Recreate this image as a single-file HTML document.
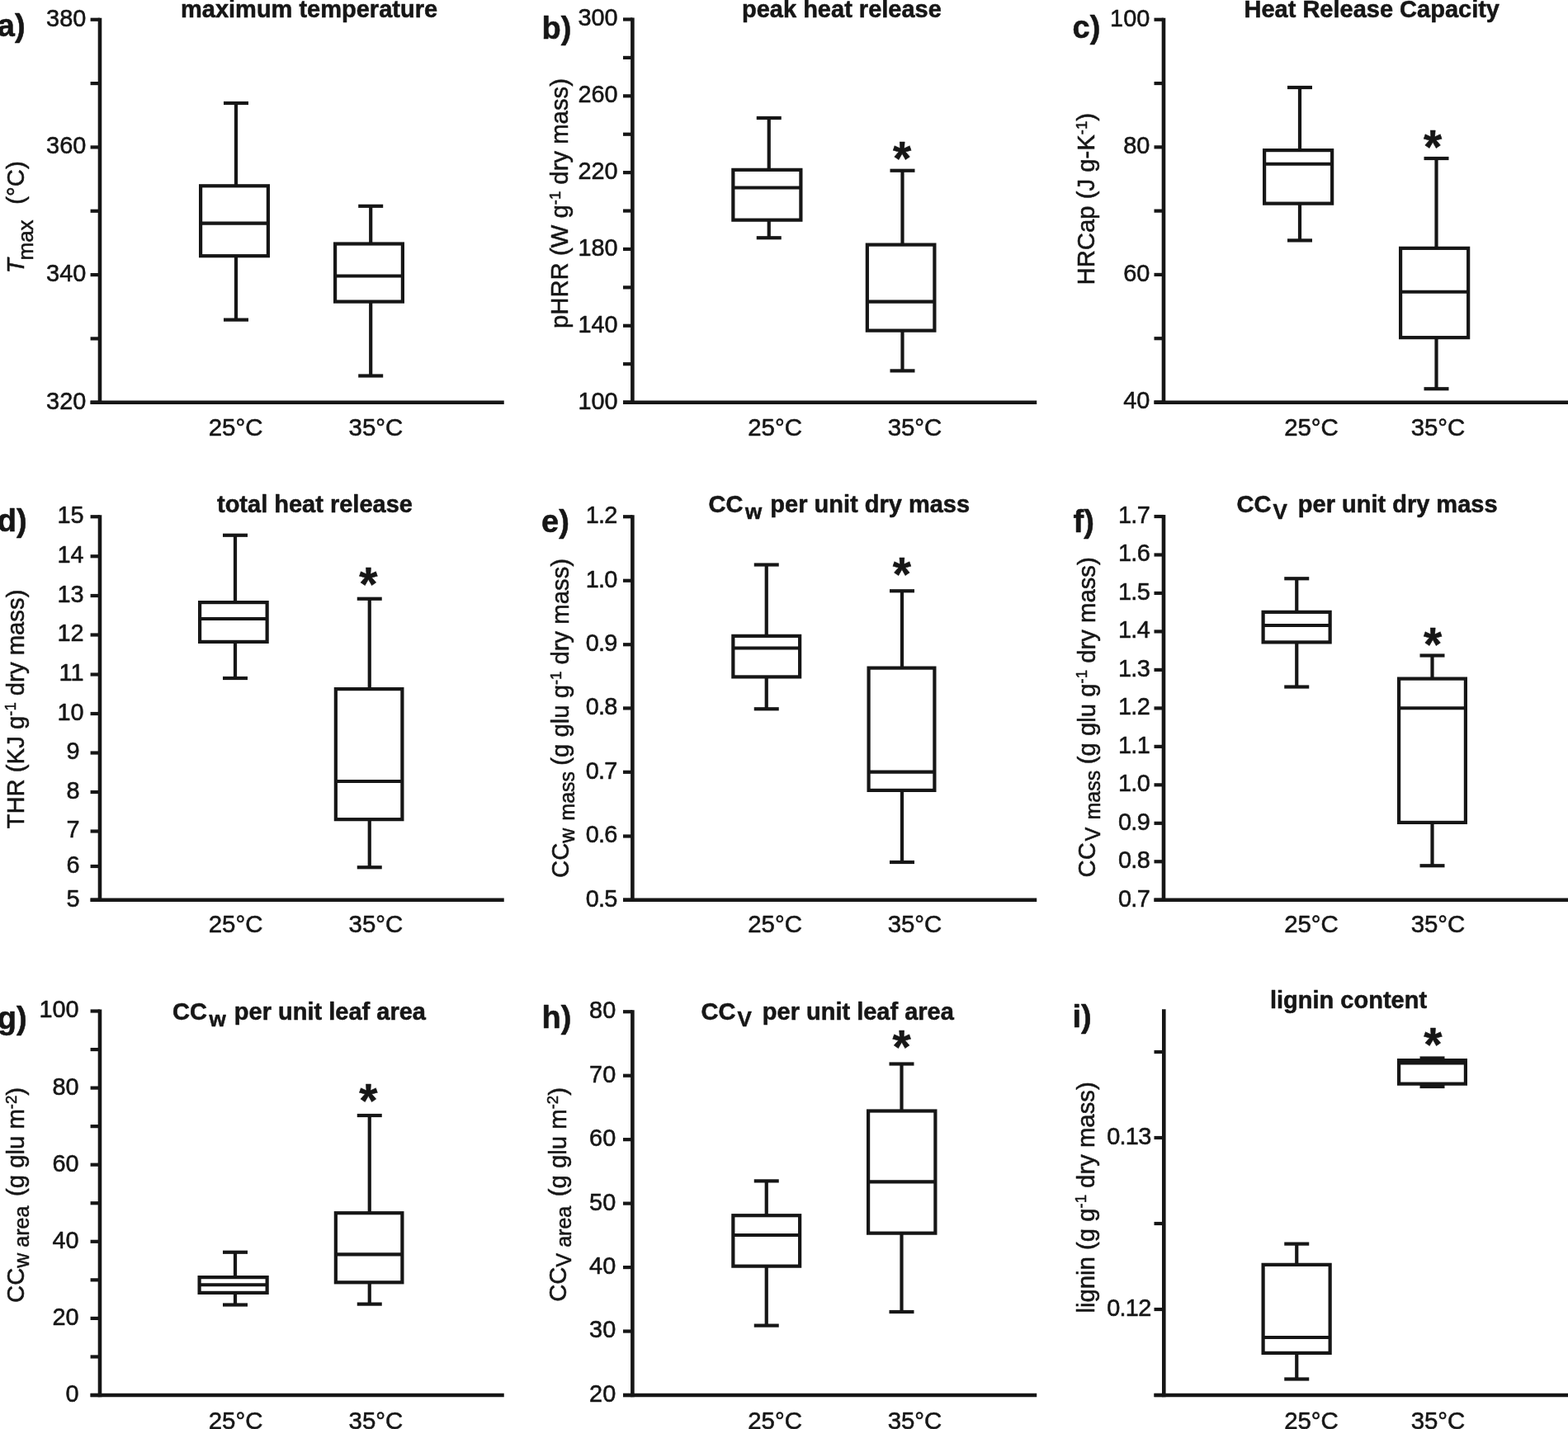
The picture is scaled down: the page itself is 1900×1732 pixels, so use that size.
<!DOCTYPE html>
<html lang="en">
<head>
<meta charset="utf-8">
<title>Box plots: thermal decomposition and construction cost at 25°C and 35°C</title>
<style>
html,body{margin:0;padding:0;background:#fff;}
body{width:1900px;height:1732px;overflow:hidden;}
svg{display:block;}
svg text{font-family:"Liberation Sans",sans-serif;fill:#161616;stroke:#161616;stroke-width:0.55px;stroke-linejoin:round;}
svg line,svg rect{stroke:#161616;}
</style>
</head>
<body>
<svg width="1900" height="1732" viewBox="0 0 1900 1732" shape-rendering="auto">
<rect x="0" y="0" width="1900" height="1732" fill="#fff" stroke="none" style="stroke:none"/>
<g id="panel-a">
<line x1="121" y1="21.65" x2="121" y2="490.05" stroke-width="4.6"/>
<line x1="109.6" y1="487.75" x2="610.75" y2="487.75" stroke-width="4.6"/>
<line x1="109.6" y1="23.75" x2="121" y2="23.75" stroke-width="4.2"/>
<line x1="109.6" y1="101.08" x2="121" y2="101.08" stroke-width="4.2"/>
<line x1="109.6" y1="178.42" x2="121" y2="178.42" stroke-width="4.2"/>
<line x1="109.6" y1="255.75" x2="121" y2="255.75" stroke-width="4.2"/>
<line x1="109.6" y1="333.08" x2="121" y2="333.08" stroke-width="4.2"/>
<line x1="109.6" y1="410.42" x2="121" y2="410.42" stroke-width="4.2"/>
<line x1="109.6" y1="487.75" x2="121" y2="487.75" stroke-width="4.2"/>
<text transform="translate(104.3 31.65) scale(1 1.05)" font-size="28.9" text-anchor="end">380</text>
<text transform="translate(104.3 186.32) scale(1 1.05)" font-size="28.9" text-anchor="end">360</text>
<text transform="translate(104.3 340.98) scale(1 1.05)" font-size="28.9" text-anchor="end">340</text>
<text transform="translate(104.3 495.65) scale(1 1.05)" font-size="28.9" text-anchor="end">320</text>
<rect x="243.1" y="225.3" width="81.8" height="84.9" fill="#fff" stroke-width="4.2"/>
<line x1="243.1" y1="270.7" x2="324.9" y2="270.7" stroke-width="4.2"/>
<line x1="286" y1="125" x2="286" y2="225.3" stroke-width="4.2"/>
<line x1="286" y1="310.2" x2="286" y2="387.6" stroke-width="4.2"/>
<line x1="271" y1="125" x2="301" y2="125" stroke-width="4.2"/>
<line x1="271" y1="387.6" x2="301" y2="387.6" stroke-width="4.2"/>
<rect x="406.1" y="295.5" width="81.8" height="70.1" fill="#fff" stroke-width="4.2"/>
<line x1="406.1" y1="334.5" x2="487.9" y2="334.5" stroke-width="4.2"/>
<line x1="449.2" y1="249.8" x2="449.2" y2="295.5" stroke-width="4.2"/>
<line x1="449.2" y1="365.6" x2="449.2" y2="455.5" stroke-width="4.2"/>
<line x1="434.2" y1="249.8" x2="464.2" y2="249.8" stroke-width="4.2"/>
<line x1="434.2" y1="455.5" x2="464.2" y2="455.5" stroke-width="4.2"/>
<text transform="translate(285.6 527.5) scale(1 1.03)" font-size="29.4" text-anchor="middle">25°C</text>
<text transform="translate(455.4 527.5) scale(1 1.03)" font-size="29.4" text-anchor="middle">35°C</text>
<text x="219" y="21.2" font-size="29" font-weight="bold" xml:space="preserve"><tspan>maximum temperature</tspan></text>
<text x="-3.2" y="44.2" font-size="38" font-weight="bold">a)</text>
<text transform="translate(28.8 331.2) rotate(-90)" font-size="29.3" xml:space="preserve"><tspan font-style="italic">T</tspan><tspan dy="11.5" dx="-2.2" font-size="26">max</tspan><tspan dy="-11.5" dx="2.4">  (°C)</tspan></text>
</g>
<g id="panel-b">
<line x1="766.4" y1="21.4" x2="766.4" y2="490.05" stroke-width="4.6"/>
<line x1="755" y1="487.75" x2="1256.25" y2="487.75" stroke-width="4.6"/>
<line x1="755" y1="23.5" x2="766.4" y2="23.5" stroke-width="4.2"/>
<line x1="755" y1="69.91" x2="766.4" y2="69.91" stroke-width="4.2"/>
<line x1="755" y1="116.32" x2="766.4" y2="116.32" stroke-width="4.2"/>
<line x1="755" y1="162.73" x2="766.4" y2="162.73" stroke-width="4.2"/>
<line x1="755" y1="209.14" x2="766.4" y2="209.14" stroke-width="4.2"/>
<line x1="755" y1="255.55" x2="766.4" y2="255.55" stroke-width="4.2"/>
<line x1="755" y1="301.96" x2="766.4" y2="301.96" stroke-width="4.2"/>
<line x1="755" y1="348.37" x2="766.4" y2="348.37" stroke-width="4.2"/>
<line x1="755" y1="394.78" x2="766.4" y2="394.78" stroke-width="4.2"/>
<line x1="755" y1="441.19" x2="766.4" y2="441.19" stroke-width="4.2"/>
<line x1="755" y1="487.6" x2="766.4" y2="487.6" stroke-width="4.2"/>
<text transform="translate(748.6 31.4) scale(1 1.05)" font-size="28.9" text-anchor="end">300</text>
<text transform="translate(748.6 124.22) scale(1 1.05)" font-size="28.9" text-anchor="end">260</text>
<text transform="translate(748.6 217.04) scale(1 1.05)" font-size="28.9" text-anchor="end">220</text>
<text transform="translate(748.6 309.86) scale(1 1.05)" font-size="28.9" text-anchor="end">180</text>
<text transform="translate(748.6 402.68) scale(1 1.05)" font-size="28.9" text-anchor="end">140</text>
<text transform="translate(748.6 495.5) scale(1 1.05)" font-size="28.9" text-anchor="end">100</text>
<rect x="888.35" y="205.85" width="82.05" height="60.8" fill="#fff" stroke-width="4.2"/>
<line x1="888.35" y1="227.5" x2="970.4" y2="227.5" stroke-width="4.2"/>
<line x1="931.75" y1="143" x2="931.75" y2="205.85" stroke-width="4.2"/>
<line x1="931.75" y1="266.65" x2="931.75" y2="288.25" stroke-width="4.2"/>
<line x1="916.75" y1="143" x2="946.75" y2="143" stroke-width="4.2"/>
<line x1="916.75" y1="288.25" x2="946.75" y2="288.25" stroke-width="4.2"/>
<rect x="1050.85" y="296.6" width="81.55" height="104.05" fill="#fff" stroke-width="4.2"/>
<line x1="1050.85" y1="365.6" x2="1132.4" y2="365.6" stroke-width="4.2"/>
<line x1="1093.5" y1="206.75" x2="1093.5" y2="296.6" stroke-width="4.2"/>
<line x1="1093.5" y1="400.65" x2="1093.5" y2="449.4" stroke-width="4.2"/>
<line x1="1078.5" y1="206.75" x2="1108.5" y2="206.75" stroke-width="4.2"/>
<line x1="1078.5" y1="449.4" x2="1108.5" y2="449.4" stroke-width="4.2"/>
<text x="1093" y="211.8" font-size="57" text-anchor="middle" font-weight="bold">*</text>
<text transform="translate(939.1 527.5) scale(1 1.03)" font-size="29.4" text-anchor="middle">25°C</text>
<text transform="translate(1108.5 527.5) scale(1 1.03)" font-size="29.4" text-anchor="middle">35°C</text>
<text x="899" y="21.2" font-size="29" font-weight="bold" xml:space="preserve"><tspan>peak heat release</tspan></text>
<text x="656.5" y="47" font-size="38" font-weight="bold">b)</text>
<text transform="translate(688 398) rotate(-90)" font-size="29.3" xml:space="preserve"><tspan>pHRR (W g</tspan><tspan dy="-9.2" font-size="18.5">-1</tspan><tspan dy="9.2"> dry mass)</tspan></text>
</g>
<g id="panel-c">
<line x1="1410" y1="21.65" x2="1410" y2="490.05" stroke-width="4.6"/>
<line x1="1398.5" y1="487.75" x2="1902" y2="487.75" stroke-width="4.6"/>
<line x1="1398.5" y1="23.75" x2="1410" y2="23.75" stroke-width="4.2"/>
<line x1="1398.5" y1="101.04" x2="1410" y2="101.04" stroke-width="4.2"/>
<line x1="1398.5" y1="178.33" x2="1410" y2="178.33" stroke-width="4.2"/>
<line x1="1398.5" y1="255.62" x2="1410" y2="255.62" stroke-width="4.2"/>
<line x1="1398.5" y1="332.92" x2="1410" y2="332.92" stroke-width="4.2"/>
<line x1="1398.5" y1="410.21" x2="1410" y2="410.21" stroke-width="4.2"/>
<line x1="1398.5" y1="487.5" x2="1410" y2="487.5" stroke-width="4.2"/>
<text transform="translate(1393.3 31.65) scale(1 1.05)" font-size="28.9" text-anchor="end">100</text>
<text transform="translate(1393.3 186.23) scale(1 1.05)" font-size="28.9" text-anchor="end">80</text>
<text transform="translate(1393.3 340.82) scale(1 1.05)" font-size="28.9" text-anchor="end">60</text>
<text transform="translate(1393.3 495.4) scale(1 1.05)" font-size="28.9" text-anchor="end">40</text>
<rect x="1532.1" y="182.1" width="82.05" height="64.55" fill="#fff" stroke-width="4.2"/>
<line x1="1532.1" y1="198.75" x2="1614.15" y2="198.75" stroke-width="4.2"/>
<line x1="1575" y1="106" x2="1575" y2="182.1" stroke-width="4.2"/>
<line x1="1575" y1="246.65" x2="1575" y2="291.4" stroke-width="4.2"/>
<line x1="1560" y1="106" x2="1590" y2="106" stroke-width="4.2"/>
<line x1="1560" y1="291.4" x2="1590" y2="291.4" stroke-width="4.2"/>
<rect x="1697.1" y="300.85" width="82.05" height="108.3" fill="#fff" stroke-width="4.2"/>
<line x1="1697.1" y1="353.75" x2="1779.15" y2="353.75" stroke-width="4.2"/>
<line x1="1740.5" y1="192" x2="1740.5" y2="300.85" stroke-width="4.2"/>
<line x1="1740.5" y1="409.15" x2="1740.5" y2="471.25" stroke-width="4.2"/>
<line x1="1725.5" y1="192" x2="1755.5" y2="192" stroke-width="4.2"/>
<line x1="1725.5" y1="471.25" x2="1755.5" y2="471.25" stroke-width="4.2"/>
<text x="1736" y="197.55" font-size="57" text-anchor="middle" font-weight="bold">*</text>
<text transform="translate(1589 527.5) scale(1 1.03)" font-size="29.4" text-anchor="middle">25°C</text>
<text transform="translate(1742.5 527.5) scale(1 1.03)" font-size="29.4" text-anchor="middle">35°C</text>
<text x="1507.5" y="21.2" font-size="29" font-weight="bold" xml:space="preserve"><tspan>Heat Release Capacity</tspan></text>
<text x="1299.5" y="46.3" font-size="38" font-weight="bold">c)</text>
<text transform="translate(1326 345.5) rotate(-90)" font-size="29.3" xml:space="preserve"><tspan>HRCap (J g-K</tspan><tspan dy="-9.2" font-size="18.5">-1</tspan><tspan dy="9.2">)</tspan></text>
</g>
<g id="panel-d">
<line x1="121" y1="624.15" x2="121" y2="1093.05" stroke-width="4.6"/>
<line x1="109.6" y1="1090.75" x2="610.75" y2="1090.75" stroke-width="4.6"/>
<line x1="109.6" y1="626.25" x2="121" y2="626.25" stroke-width="4.2"/>
<line x1="109.6" y1="674.25" x2="121" y2="674.25" stroke-width="4.2"/>
<line x1="109.6" y1="722" x2="121" y2="722" stroke-width="4.2"/>
<line x1="109.6" y1="769.5" x2="121" y2="769.5" stroke-width="4.2"/>
<line x1="109.6" y1="817.5" x2="121" y2="817.5" stroke-width="4.2"/>
<line x1="109.6" y1="865" x2="121" y2="865" stroke-width="4.2"/>
<line x1="109.6" y1="912.5" x2="121" y2="912.5" stroke-width="4.2"/>
<line x1="109.6" y1="960" x2="121" y2="960" stroke-width="4.2"/>
<line x1="109.6" y1="1007.5" x2="121" y2="1007.5" stroke-width="4.2"/>
<line x1="109.6" y1="1050" x2="121" y2="1050" stroke-width="4.2"/>
<line x1="109.6" y1="1090.75" x2="121" y2="1090.75" stroke-width="4.2"/>
<text transform="translate(101.6 634.15) scale(1 1.05)" font-size="28.9" text-anchor="end">15</text>
<text transform="translate(101.6 682.15) scale(1 1.05)" font-size="28.9" text-anchor="end">14</text>
<text transform="translate(101.6 729.9) scale(1 1.05)" font-size="28.9" text-anchor="end">13</text>
<text transform="translate(101.6 777.4) scale(1 1.05)" font-size="28.9" text-anchor="end">12</text>
<text transform="translate(101.6 825.4) scale(1 1.05)" font-size="28.9" text-anchor="end">11</text>
<text transform="translate(101.6 872.9) scale(1 1.05)" font-size="28.9" text-anchor="end">10</text>
<text transform="translate(96.6 920.4) scale(1 1.05)" font-size="28.9" text-anchor="end">9</text>
<text transform="translate(96.6 967.9) scale(1 1.05)" font-size="28.9" text-anchor="end">8</text>
<text transform="translate(96.6 1015.4) scale(1 1.05)" font-size="28.9" text-anchor="end">7</text>
<text transform="translate(96.6 1057.9) scale(1 1.05)" font-size="28.9" text-anchor="end">6</text>
<text transform="translate(96.6 1098.65) scale(1 1.05)" font-size="28.9" text-anchor="end">5</text>
<rect x="242.1" y="730.1" width="81.55" height="47.8" fill="#fff" stroke-width="4.2"/>
<line x1="242.1" y1="750" x2="323.65" y2="750" stroke-width="4.2"/>
<line x1="285" y1="648.75" x2="285" y2="730.1" stroke-width="4.2"/>
<line x1="285" y1="777.9" x2="285" y2="822" stroke-width="4.2"/>
<line x1="270" y1="648.75" x2="300" y2="648.75" stroke-width="4.2"/>
<line x1="270" y1="822" x2="300" y2="822" stroke-width="4.2"/>
<rect x="406.85" y="835.1" width="80.55" height="158.05" fill="#fff" stroke-width="4.2"/>
<line x1="406.85" y1="947" x2="487.4" y2="947" stroke-width="4.2"/>
<line x1="447.75" y1="725.75" x2="447.75" y2="835.1" stroke-width="4.2"/>
<line x1="447.75" y1="993.15" x2="447.75" y2="1051.25" stroke-width="4.2"/>
<line x1="432.75" y1="725.75" x2="462.75" y2="725.75" stroke-width="4.2"/>
<line x1="432.75" y1="1051.25" x2="462.75" y2="1051.25" stroke-width="4.2"/>
<text x="446.25" y="727.55" font-size="57" text-anchor="middle" font-weight="bold">*</text>
<text transform="translate(285.6 1129.7) scale(1 1.03)" font-size="29.4" text-anchor="middle">25°C</text>
<text transform="translate(455.4 1129.7) scale(1 1.03)" font-size="29.4" text-anchor="middle">35°C</text>
<text x="263" y="621.3" font-size="29" font-weight="bold" xml:space="preserve"><tspan>total heat release</tspan></text>
<text x="-3.3" y="643.8" font-size="38" font-weight="bold">d)</text>
<text transform="translate(28.65 1004.5) rotate(-90)" font-size="29.3" xml:space="preserve"><tspan>THR (KJ g</tspan><tspan dy="-9.2" font-size="18.5">-1</tspan><tspan dy="9.2"> dry mass)</tspan></text>
</g>
<g id="panel-e">
<line x1="766.4" y1="624.15" x2="766.4" y2="1093.05" stroke-width="4.6"/>
<line x1="755" y1="1090.75" x2="1256.25" y2="1090.75" stroke-width="4.6"/>
<line x1="755" y1="626.25" x2="766.4" y2="626.25" stroke-width="4.2"/>
<line x1="755" y1="703.75" x2="766.4" y2="703.75" stroke-width="4.2"/>
<line x1="755" y1="781.25" x2="766.4" y2="781.25" stroke-width="4.2"/>
<line x1="755" y1="858.4" x2="766.4" y2="858.4" stroke-width="4.2"/>
<line x1="755" y1="935.8" x2="766.4" y2="935.8" stroke-width="4.2"/>
<line x1="755" y1="1013.5" x2="766.4" y2="1013.5" stroke-width="4.2"/>
<line x1="755" y1="1090.75" x2="766.4" y2="1090.75" stroke-width="4.2"/>
<text transform="translate(747.7 634.15) scale(1 1.05)" font-size="28.9" text-anchor="end" letter-spacing="-0.7">1.2</text>
<text transform="translate(747.7 711.65) scale(1 1.05)" font-size="28.9" text-anchor="end" letter-spacing="-0.7">1.0</text>
<text transform="translate(747.7 789.15) scale(1 1.05)" font-size="28.9" text-anchor="end" letter-spacing="-0.7">0.9</text>
<text transform="translate(747.7 866.3) scale(1 1.05)" font-size="28.9" text-anchor="end" letter-spacing="-0.7">0.8</text>
<text transform="translate(747.7 943.7) scale(1 1.05)" font-size="28.9" text-anchor="end" letter-spacing="-0.7">0.7</text>
<text transform="translate(747.7 1021.4) scale(1 1.05)" font-size="28.9" text-anchor="end" letter-spacing="-0.7">0.6</text>
<text transform="translate(747.7 1098.65) scale(1 1.05)" font-size="28.9" text-anchor="end" letter-spacing="-0.7">0.5</text>
<rect x="888.35" y="770.85" width="80.8" height="49.55" fill="#fff" stroke-width="4.2"/>
<line x1="888.35" y1="785.5" x2="969.15" y2="785.5" stroke-width="4.2"/>
<line x1="928.75" y1="684.5" x2="928.75" y2="770.85" stroke-width="4.2"/>
<line x1="928.75" y1="820.4" x2="928.75" y2="859.25" stroke-width="4.2"/>
<line x1="913.75" y1="684.5" x2="943.75" y2="684.5" stroke-width="4.2"/>
<line x1="913.75" y1="859.25" x2="943.75" y2="859.25" stroke-width="4.2"/>
<rect x="1052.6" y="809.6" width="79.8" height="148.3" fill="#fff" stroke-width="4.2"/>
<line x1="1052.6" y1="935.6" x2="1132.4" y2="935.6" stroke-width="4.2"/>
<line x1="1093" y1="716.25" x2="1093" y2="809.6" stroke-width="4.2"/>
<line x1="1093" y1="957.9" x2="1093" y2="1045" stroke-width="4.2"/>
<line x1="1078" y1="716.25" x2="1108" y2="716.25" stroke-width="4.2"/>
<line x1="1078" y1="1045" x2="1108" y2="1045" stroke-width="4.2"/>
<text x="1092.75" y="716.05" font-size="57" text-anchor="middle" font-weight="bold">*</text>
<text transform="translate(939.1 1129.7) scale(1 1.03)" font-size="29.4" text-anchor="middle">25°C</text>
<text transform="translate(1108.5 1129.7) scale(1 1.03)" font-size="29.4" text-anchor="middle">35°C</text>
<text x="858.5" y="621.3" font-size="29" font-weight="bold" xml:space="preserve"><tspan>CC</tspan><tspan dy="7.6" dx="2.5" font-size="26">w</tspan><tspan dy="-7.6" dx="2.2"> per unit dry mass</tspan></text>
<text x="656" y="644.5" font-size="38" font-weight="bold">e)</text>
<text transform="translate(689.2 1064) rotate(-90)" font-size="29.3" xml:space="preserve"><tspan>CC</tspan><tspan dy="6.4" font-size="25">w</tspan><tspan dx="2" font-size="25"> mass</tspan><tspan dy="-6.4" dx="-1"> (g glu g</tspan><tspan dy="-9.2" font-size="18.5">-1</tspan><tspan dy="9.2"> dry mass)</tspan></text>
</g>
<g id="panel-f">
<line x1="1410" y1="623.9" x2="1410" y2="1093.05" stroke-width="4.6"/>
<line x1="1398.5" y1="1090.75" x2="1902" y2="1090.75" stroke-width="4.6"/>
<line x1="1398.5" y1="626" x2="1410" y2="626" stroke-width="4.2"/>
<line x1="1398.5" y1="672.48" x2="1410" y2="672.48" stroke-width="4.2"/>
<line x1="1398.5" y1="718.95" x2="1410" y2="718.95" stroke-width="4.2"/>
<line x1="1398.5" y1="765.42" x2="1410" y2="765.42" stroke-width="4.2"/>
<line x1="1398.5" y1="811.9" x2="1410" y2="811.9" stroke-width="4.2"/>
<line x1="1398.5" y1="858.38" x2="1410" y2="858.38" stroke-width="4.2"/>
<line x1="1398.5" y1="904.85" x2="1410" y2="904.85" stroke-width="4.2"/>
<line x1="1398.5" y1="951.33" x2="1410" y2="951.33" stroke-width="4.2"/>
<line x1="1398.5" y1="997.8" x2="1410" y2="997.8" stroke-width="4.2"/>
<line x1="1398.5" y1="1044.28" x2="1410" y2="1044.28" stroke-width="4.2"/>
<line x1="1398.5" y1="1090.75" x2="1410" y2="1090.75" stroke-width="4.2"/>
<text transform="translate(1393 633.9) scale(1 1.05)" font-size="28.9" text-anchor="end" letter-spacing="-0.7">1.7</text>
<text transform="translate(1393 680.38) scale(1 1.05)" font-size="28.9" text-anchor="end" letter-spacing="-0.7">1.6</text>
<text transform="translate(1393 726.85) scale(1 1.05)" font-size="28.9" text-anchor="end" letter-spacing="-0.7">1.5</text>
<text transform="translate(1393 773.32) scale(1 1.05)" font-size="28.9" text-anchor="end" letter-spacing="-0.7">1.4</text>
<text transform="translate(1393 819.8) scale(1 1.05)" font-size="28.9" text-anchor="end" letter-spacing="-0.7">1.3</text>
<text transform="translate(1393 866.27) scale(1 1.05)" font-size="28.9" text-anchor="end" letter-spacing="-0.7">1.2</text>
<text transform="translate(1393 912.75) scale(1 1.05)" font-size="28.9" text-anchor="end" letter-spacing="-0.7">1.1</text>
<text transform="translate(1393 959.23) scale(1 1.05)" font-size="28.9" text-anchor="end" letter-spacing="-0.7">1.0</text>
<text transform="translate(1393 1005.7) scale(1 1.05)" font-size="28.9" text-anchor="end" letter-spacing="-0.7">0.9</text>
<text transform="translate(1393 1052.18) scale(1 1.05)" font-size="28.9" text-anchor="end" letter-spacing="-0.7">0.8</text>
<text transform="translate(1393 1098.65) scale(1 1.05)" font-size="28.9" text-anchor="end" letter-spacing="-0.7">0.7</text>
<rect x="1530.6" y="741.85" width="81.05" height="36.55" fill="#fff" stroke-width="4.2"/>
<line x1="1530.6" y1="758" x2="1611.65" y2="758" stroke-width="4.2"/>
<line x1="1571.25" y1="701.25" x2="1571.25" y2="741.85" stroke-width="4.2"/>
<line x1="1571.25" y1="778.4" x2="1571.25" y2="832.5" stroke-width="4.2"/>
<line x1="1556.25" y1="701.25" x2="1586.25" y2="701.25" stroke-width="4.2"/>
<line x1="1556.25" y1="832.5" x2="1586.25" y2="832.5" stroke-width="4.2"/>
<rect x="1695.1" y="822.6" width="80.8" height="174.3" fill="#fff" stroke-width="4.2"/>
<line x1="1695.1" y1="858.25" x2="1775.9" y2="858.25" stroke-width="4.2"/>
<line x1="1735.5" y1="794.5" x2="1735.5" y2="822.6" stroke-width="4.2"/>
<line x1="1735.5" y1="996.9" x2="1735.5" y2="1049.25" stroke-width="4.2"/>
<line x1="1720.5" y1="794.5" x2="1750.5" y2="794.5" stroke-width="4.2"/>
<line x1="1720.5" y1="1049.25" x2="1750.5" y2="1049.25" stroke-width="4.2"/>
<text x="1736" y="801.3" font-size="57" text-anchor="middle" font-weight="bold">*</text>
<text transform="translate(1589 1129.7) scale(1 1.03)" font-size="29.4" text-anchor="middle">25°C</text>
<text transform="translate(1742.5 1129.7) scale(1 1.03)" font-size="29.4" text-anchor="middle">35°C</text>
<text x="1498.5" y="621.3" font-size="29" font-weight="bold" xml:space="preserve"><tspan>CC</tspan><tspan dy="7.75" dx="2.1" font-size="26">V</tspan><tspan dy="-7.75" dx="4.9"> per unit dry mass</tspan></text>
<text x="1300.5" y="644.5" font-size="38" font-weight="bold">f)</text>
<text transform="translate(1326.5 1063.5) rotate(-90)" font-size="29.3" xml:space="preserve"><tspan>CC</tspan><tspan dy="6.4" dx="2" font-size="25">V</tspan><tspan dx="2" font-size="25"> mass</tspan><tspan dy="-6.4" dx="-0.5"> (g glu g</tspan><tspan dy="-9.2" font-size="18.5">-1</tspan><tspan dy="9.2"> dry mass)</tspan></text>
</g>
<g id="panel-g">
<line x1="121" y1="1223.4" x2="121" y2="1693.3" stroke-width="4.6"/>
<line x1="109.6" y1="1691" x2="610.75" y2="1691" stroke-width="4.6"/>
<line x1="109.6" y1="1225.5" x2="121" y2="1225.5" stroke-width="4.2"/>
<line x1="109.6" y1="1272.05" x2="121" y2="1272.05" stroke-width="4.2"/>
<line x1="109.6" y1="1318.6" x2="121" y2="1318.6" stroke-width="4.2"/>
<line x1="109.6" y1="1365.15" x2="121" y2="1365.15" stroke-width="4.2"/>
<line x1="109.6" y1="1411.7" x2="121" y2="1411.7" stroke-width="4.2"/>
<line x1="109.6" y1="1458.25" x2="121" y2="1458.25" stroke-width="4.2"/>
<line x1="109.6" y1="1504.8" x2="121" y2="1504.8" stroke-width="4.2"/>
<line x1="109.6" y1="1551.35" x2="121" y2="1551.35" stroke-width="4.2"/>
<line x1="109.6" y1="1597.9" x2="121" y2="1597.9" stroke-width="4.2"/>
<line x1="109.6" y1="1644.45" x2="121" y2="1644.45" stroke-width="4.2"/>
<line x1="109.6" y1="1691" x2="121" y2="1691" stroke-width="4.2"/>
<text transform="translate(95.6 1233.4) scale(1 1.05)" font-size="28.9" text-anchor="end">100</text>
<text transform="translate(95.6 1326.5) scale(1 1.05)" font-size="28.9" text-anchor="end">80</text>
<text transform="translate(95.6 1419.6) scale(1 1.05)" font-size="28.9" text-anchor="end">60</text>
<text transform="translate(95.6 1512.7) scale(1 1.05)" font-size="28.9" text-anchor="end">40</text>
<text transform="translate(95.6 1605.8) scale(1 1.05)" font-size="28.9" text-anchor="end">20</text>
<text transform="translate(95.6 1698.9) scale(1 1.05)" font-size="28.9" text-anchor="end">0</text>
<rect x="241.6" y="1548.1" width="82.05" height="18.8" fill="#fff" stroke-width="4.2"/>
<line x1="241.6" y1="1557.25" x2="323.65" y2="1557.25" stroke-width="4.2"/>
<line x1="285" y1="1517.75" x2="285" y2="1548.1" stroke-width="4.2"/>
<line x1="285" y1="1566.9" x2="285" y2="1581.5" stroke-width="4.2"/>
<line x1="270" y1="1517.75" x2="300" y2="1517.75" stroke-width="4.2"/>
<line x1="270" y1="1581.5" x2="300" y2="1581.5" stroke-width="4.2"/>
<rect x="406.85" y="1470.2" width="80.55" height="84.1" fill="#fff" stroke-width="4.2"/>
<line x1="406.85" y1="1520.4" x2="487.4" y2="1520.4" stroke-width="4.2"/>
<line x1="447.75" y1="1352" x2="447.75" y2="1470.2" stroke-width="4.2"/>
<line x1="447.75" y1="1554.3" x2="447.75" y2="1580.6" stroke-width="4.2"/>
<line x1="432.75" y1="1352" x2="462.75" y2="1352" stroke-width="4.2"/>
<line x1="432.75" y1="1580.6" x2="462.75" y2="1580.6" stroke-width="4.2"/>
<text x="446.25" y="1353.8" font-size="57" text-anchor="middle" font-weight="bold">*</text>
<text transform="translate(285.6 1732.3) scale(1 1.03)" font-size="29.4" text-anchor="middle">25°C</text>
<text transform="translate(455.4 1732.3) scale(1 1.03)" font-size="29.4" text-anchor="middle">35°C</text>
<text x="209" y="1236.2" font-size="29" font-weight="bold" xml:space="preserve"><tspan>CC</tspan><tspan dy="7.6" dx="2.5" font-size="26">w</tspan><tspan dy="-7.6" dx="2.2"> per unit leaf area</tspan></text>
<text x="-3.3" y="1247" font-size="38" font-weight="bold">g)</text>
<text transform="translate(28.8 1579) rotate(-90)" font-size="29.3" xml:space="preserve"><tspan>CC</tspan><tspan dy="6.4" font-size="25">w area</tspan><tspan dy="-6.4" dx="3.5"> (g glu m</tspan><tspan dy="-9.2" font-size="18.5">-2</tspan><tspan dy="9.2">)</tspan></text>
</g>
<g id="panel-h">
<line x1="766.4" y1="1224.15" x2="766.4" y2="1693.3" stroke-width="4.6"/>
<line x1="755" y1="1691" x2="1256.25" y2="1691" stroke-width="4.6"/>
<line x1="755" y1="1226.25" x2="766.4" y2="1226.25" stroke-width="4.2"/>
<line x1="755" y1="1303.71" x2="766.4" y2="1303.71" stroke-width="4.2"/>
<line x1="755" y1="1381.17" x2="766.4" y2="1381.17" stroke-width="4.2"/>
<line x1="755" y1="1458.62" x2="766.4" y2="1458.62" stroke-width="4.2"/>
<line x1="755" y1="1536.08" x2="766.4" y2="1536.08" stroke-width="4.2"/>
<line x1="755" y1="1613.54" x2="766.4" y2="1613.54" stroke-width="4.2"/>
<line x1="755" y1="1691" x2="766.4" y2="1691" stroke-width="4.2"/>
<text transform="translate(746.2 1234.15) scale(1 1.05)" font-size="28.9" text-anchor="end">80</text>
<text transform="translate(746.2 1311.61) scale(1 1.05)" font-size="28.9" text-anchor="end">70</text>
<text transform="translate(746.2 1389.07) scale(1 1.05)" font-size="28.9" text-anchor="end">60</text>
<text transform="translate(746.2 1466.53) scale(1 1.05)" font-size="28.9" text-anchor="end">50</text>
<text transform="translate(746.2 1543.98) scale(1 1.05)" font-size="28.9" text-anchor="end">40</text>
<text transform="translate(746.2 1621.44) scale(1 1.05)" font-size="28.9" text-anchor="end">30</text>
<text transform="translate(746.2 1698.9) scale(1 1.05)" font-size="28.9" text-anchor="end">20</text>
<rect x="888.35" y="1473.2" width="80.8" height="61.45" fill="#fff" stroke-width="4.2"/>
<line x1="888.35" y1="1497" x2="969.15" y2="1497" stroke-width="4.2"/>
<line x1="928.75" y1="1431.4" x2="928.75" y2="1473.2" stroke-width="4.2"/>
<line x1="928.75" y1="1534.65" x2="928.75" y2="1606.6" stroke-width="4.2"/>
<line x1="913.75" y1="1431.4" x2="943.75" y2="1431.4" stroke-width="4.2"/>
<line x1="913.75" y1="1606.6" x2="943.75" y2="1606.6" stroke-width="4.2"/>
<rect x="1052.1" y="1346.5" width="81.3" height="148.15" fill="#fff" stroke-width="4.2"/>
<line x1="1052.1" y1="1432.4" x2="1133.4" y2="1432.4" stroke-width="4.2"/>
<line x1="1092.5" y1="1289.5" x2="1092.5" y2="1346.5" stroke-width="4.2"/>
<line x1="1092.5" y1="1494.65" x2="1092.5" y2="1590" stroke-width="4.2"/>
<line x1="1077.5" y1="1289.5" x2="1107.5" y2="1289.5" stroke-width="4.2"/>
<line x1="1077.5" y1="1590" x2="1107.5" y2="1590" stroke-width="4.2"/>
<text x="1092.5" y="1289.3" font-size="57" text-anchor="middle" font-weight="bold">*</text>
<text transform="translate(939.1 1732.3) scale(1 1.03)" font-size="29.4" text-anchor="middle">25°C</text>
<text transform="translate(1108.5 1732.3) scale(1 1.03)" font-size="29.4" text-anchor="middle">35°C</text>
<text x="849.5" y="1236.2" font-size="29" font-weight="bold" xml:space="preserve"><tspan>CC</tspan><tspan dy="7.75" dx="2.1" font-size="26">V</tspan><tspan dy="-7.75" dx="4.9"> per unit leaf area</tspan></text>
<text x="656.5" y="1245.5" font-size="38" font-weight="bold">h)</text>
<text transform="translate(685.6 1577.8) rotate(-90)" font-size="29.3" xml:space="preserve"><tspan>CC</tspan><tspan dy="6.4" font-size="25">V area</tspan><tspan dy="-6.4" dx="3.5"> (g glu m</tspan><tspan dy="-9.2" font-size="18.5">-2</tspan><tspan dy="9.2">)</tspan></text>
</g>
<g id="panel-i">
<line x1="1410.3" y1="1223.25" x2="1410.3" y2="1693.3" stroke-width="4.6"/>
<line x1="1398.5" y1="1691" x2="1902" y2="1691" stroke-width="4.6"/>
<line x1="1398.5" y1="1275" x2="1410.3" y2="1275" stroke-width="4.2"/>
<line x1="1398.5" y1="1379" x2="1410.3" y2="1379" stroke-width="4.2"/>
<line x1="1398.5" y1="1483" x2="1410.3" y2="1483" stroke-width="4.2"/>
<line x1="1398.5" y1="1587" x2="1410.3" y2="1587" stroke-width="4.2"/>
<line x1="1398.5" y1="1691" x2="1410.3" y2="1691" stroke-width="4.2"/>
<text transform="translate(1394.6 1386.9) scale(1 1.05)" font-size="28.9" text-anchor="end" letter-spacing="-0.7">0.13</text>
<text transform="translate(1394.6 1594.9) scale(1 1.05)" font-size="28.9" text-anchor="end" letter-spacing="-0.7">0.12</text>
<rect x="1530.6" y="1532.85" width="81.05" height="107.05" fill="#fff" stroke-width="4.2"/>
<line x1="1530.6" y1="1621" x2="1611.65" y2="1621" stroke-width="4.2"/>
<line x1="1571.25" y1="1507.6" x2="1571.25" y2="1532.85" stroke-width="4.2"/>
<line x1="1571.25" y1="1639.9" x2="1571.25" y2="1671.5" stroke-width="4.2"/>
<line x1="1556.25" y1="1507.6" x2="1586.25" y2="1507.6" stroke-width="4.2"/>
<line x1="1556.25" y1="1671.5" x2="1586.25" y2="1671.5" stroke-width="4.2"/>
<rect x="1695.1" y="1285.1" width="80.8" height="28.55" fill="#fff" stroke-width="4.2"/>
<line x1="1695.1" y1="1288.5" x2="1775.9" y2="1288.5" stroke-width="4.2"/>
<line x1="1735.5" y1="1282.5" x2="1735.5" y2="1285.1" stroke-width="4.2"/>
<line x1="1735.5" y1="1313.65" x2="1735.5" y2="1317" stroke-width="4.2"/>
<line x1="1720.5" y1="1282.5" x2="1750.5" y2="1282.5" stroke-width="4.2"/>
<line x1="1720.5" y1="1317" x2="1750.5" y2="1317" stroke-width="4.2"/>
<text x="1736.25" y="1286.3" font-size="57" text-anchor="middle" font-weight="bold">*</text>
<text transform="translate(1589 1732.3) scale(1 1.03)" font-size="29.4" text-anchor="middle">25°C</text>
<text transform="translate(1742.5 1732.3) scale(1 1.03)" font-size="29.4" text-anchor="middle">35°C</text>
<text x="1539" y="1221.6" font-size="29" font-weight="bold" xml:space="preserve"><tspan>lignin content</tspan></text>
<text x="1299.5" y="1245" font-size="38" font-weight="bold">i)</text>
<text transform="translate(1325.5 1591.5) rotate(-90)" font-size="29.3" xml:space="preserve"><tspan>lignin (g g</tspan><tspan dy="-9.2" font-size="18.5">-1</tspan><tspan dy="9.2"> dry mass)</tspan></text>
</g>
</svg>
</body>
</html>
